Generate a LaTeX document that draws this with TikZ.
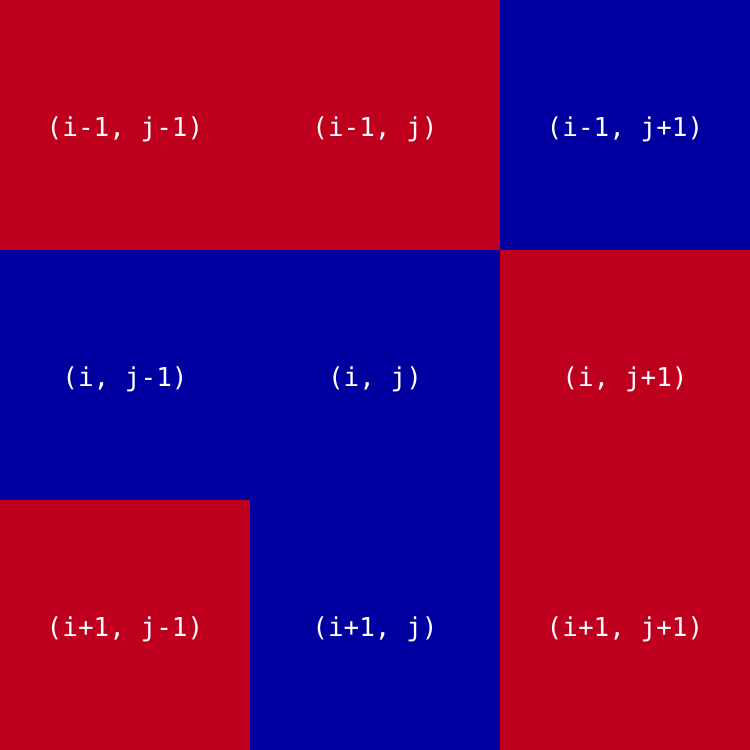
\documentclass[tikz,border=0pt]{standalone}
\usepackage{fontspec}
\setmonofont{DejaVu Sans Mono}
\definecolor{cellred}{HTML}{BE001E}
\definecolor{cellblue}{HTML}{0000A0}
\begin{document}
\begin{tikzpicture}[x=1pt,y=-1pt,
  cell/.style={minimum width=250pt,minimum height=250pt,inner sep=0pt,outer sep=0pt,
    text height=27pt,text depth=3.4pt,
    text=white,font=\ttfamily\fontsize{26}{30}\selectfont,anchor=center},
  redcell/.style={cell,fill=cellred},
  bluecell/.style={cell,fill=cellblue}]
\useasboundingbox (0,0) rectangle (750,750);
\node[redcell]  (a11) at (125,125) {(i-1, j-1)};
\node[redcell]  (a12) at (375,125) {(i-1, j)};
\node[bluecell] (a13) at (625,125) {(i-1, j+1)};
\node[bluecell] (a21) at (125,375) {(i, j-1)};
\node[bluecell] (a22) at (375,375) {(i, j)};
\node[redcell]  (a23) at (625,375) {(i, j+1)};
\node[redcell]  (a31) at (125,625) {(i+1, j-1)};
\node[bluecell] (a32) at (375,625) {(i+1, j)};
\node[redcell]  (a33) at (625,625) {(i+1, j+1)};
\end{tikzpicture}
\end{document}
